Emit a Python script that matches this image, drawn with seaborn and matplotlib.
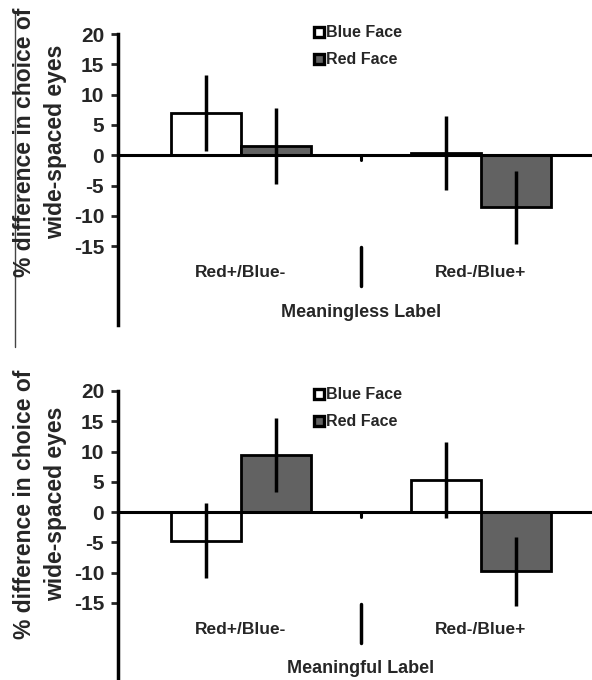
import pandas as pd
import numpy as np
import seaborn as sns
import matplotlib.pyplot as plt
from matplotlib.lines import Line2D

# data
groups = ['Red+/Blue-', 'Red-/Blue+']
faces = ['Blue Face', 'Red Face']

# meaningless label panel
top_blue = [7.0, 0.4]
top_red = [1.5, -8.6]
top_blue_err = [6.3, 6.1]
top_red_err = [6.3, 6.0]

# meaningful label panel
bot_blue = [-4.7, 5.3]
bot_red = [9.4, -9.8]
bot_blue_err = [6.2, 6.3]
bot_red_err = [6.1, 5.7]

panel_titles = ['Meaningless Label', 'Meaningful Label']
ylabel = '% difference in choice of\nwide-spaced eyes'
yticks = [-15, -10, -5, 0, 5, 10, 15, 20]

sns.set_style('white')
plt.rcParams['font.family'] = ['Liberation Sans', 'DejaVu Sans']
plt.rcParams['font.weight'] = 'bold'

fig = plt.figure(figsize=(5.92, 6.80), dpi=100)

W, H = 592, 680
# axes boxes in pixels: left, top, right, bottom
boxes = [(118, 34, 592, 325), (118, 391, 592, 681)]
ylims = [(-28, 20), (-27.9, 20)]
label_centers = [142, 504]
legend_tops = [19, 381]

panels = [
    (top_blue, top_red, top_blue_err, top_red_err),
    (bot_blue, bot_red, bot_blue_err, bot_red_err),
]

grey = '#626262'

for i, (blue, red, blue_err, red_err) in enumerate(panels):
    l, t, r, b = boxes[i]
    ax = fig.add_axes([l / W, 1 - b / H, (r - l) / W, (b - t) / H])

    df = pd.DataFrame({
        'group': groups * 2,
        'face': [faces[0]] * 2 + [faces[1]] * 2,
        'value': blue + red,
    })
    sns.barplot(data=df, x='group', y='value', hue='face', hue_order=faces,
                palette=['white', grey], edgecolor='black', linewidth=2,
                width=0.58, errorbar=None, legend=False, ax=ax)

    # error bars without caps at each bar centre
    for container, vals, errs in zip(ax.containers, [blue, red], [blue_err, red_err]):
        xs = [p.get_x() + p.get_width() / 2 for p in container]
        ax.errorbar(xs, vals, yerr=errs, fmt='none', ecolor='black',
                    elinewidth=2.5, capsize=0, zorder=5)

    ax.axhline(0, color='black', lw=2.2, zorder=4)

    # divider between the two label conditions
    mid = 0.5
    ax.plot([mid, mid], [0, -0.8], color='black', lw=2.2, zorder=4)
    ax.plot([mid, mid], [-15.1, -21.6], color='black', lw=2.5)

    for k, g in enumerate(groups):
        ax.text(k, -19.4, g, ha='center', va='center', fontsize=12.5, fontweight='bold')
    ax.text(mid, -25.9, panel_titles[i], ha='center', va='center',
            fontsize=13, fontweight='bold')

    ax.set_xlim(-0.5125, 1.4625)
    ax.set_ylim(*ylims[i])
    ax.set_yticks(yticks)
    ax.set_yticklabels([str(v) for v in yticks], fontsize=15, fontweight='bold')
    ax.tick_params(axis='y', direction='out', length=5, width=2, pad=5, left=True)
    ax.set_xticks([])
    ax.set_xlabel('')
    ax.set_ylabel('')
    for s in ['top', 'right', 'bottom']:
        ax.spines[s].set_visible(False)
    ax.spines['left'].set_linewidth(2.5)
    ax.spines['left'].set_color('black')

    handles = [
        Line2D([], [], marker='s', ls='none', markersize=7.5, markerfacecolor='white',
               markeredgecolor='black', markeredgewidth=2.4),
        Line2D([], [], marker='s', ls='none', markersize=7.5, markerfacecolor=grey,
               markeredgecolor='black', markeredgewidth=2.4),
    ]
    ax.legend(handles, faces, loc='upper left',
              bbox_to_anchor=((308 - l) / (r - l), 1 - (legend_tops[i] - t) / (b - t)),
              frameon=False, handlelength=0.55, handletextpad=0.2, labelspacing=0.75,
              borderaxespad=0, prop={'size': 11.5, 'weight': 'bold'})

    fig.text(40 / W, 1 - label_centers[i] / H, ylabel, rotation=90, ha='center',
             va='center', multialignment='center', fontsize=16.5, fontweight='bold',
             linespacing=1.4)

# thin border line left over at the left edge
fig.add_artist(Line2D([15 / W, 15 / W], [1 - 13 / H, 1 - 347 / H], color='#444444', lw=1))

plt.savefig('out.png', dpi=100)
